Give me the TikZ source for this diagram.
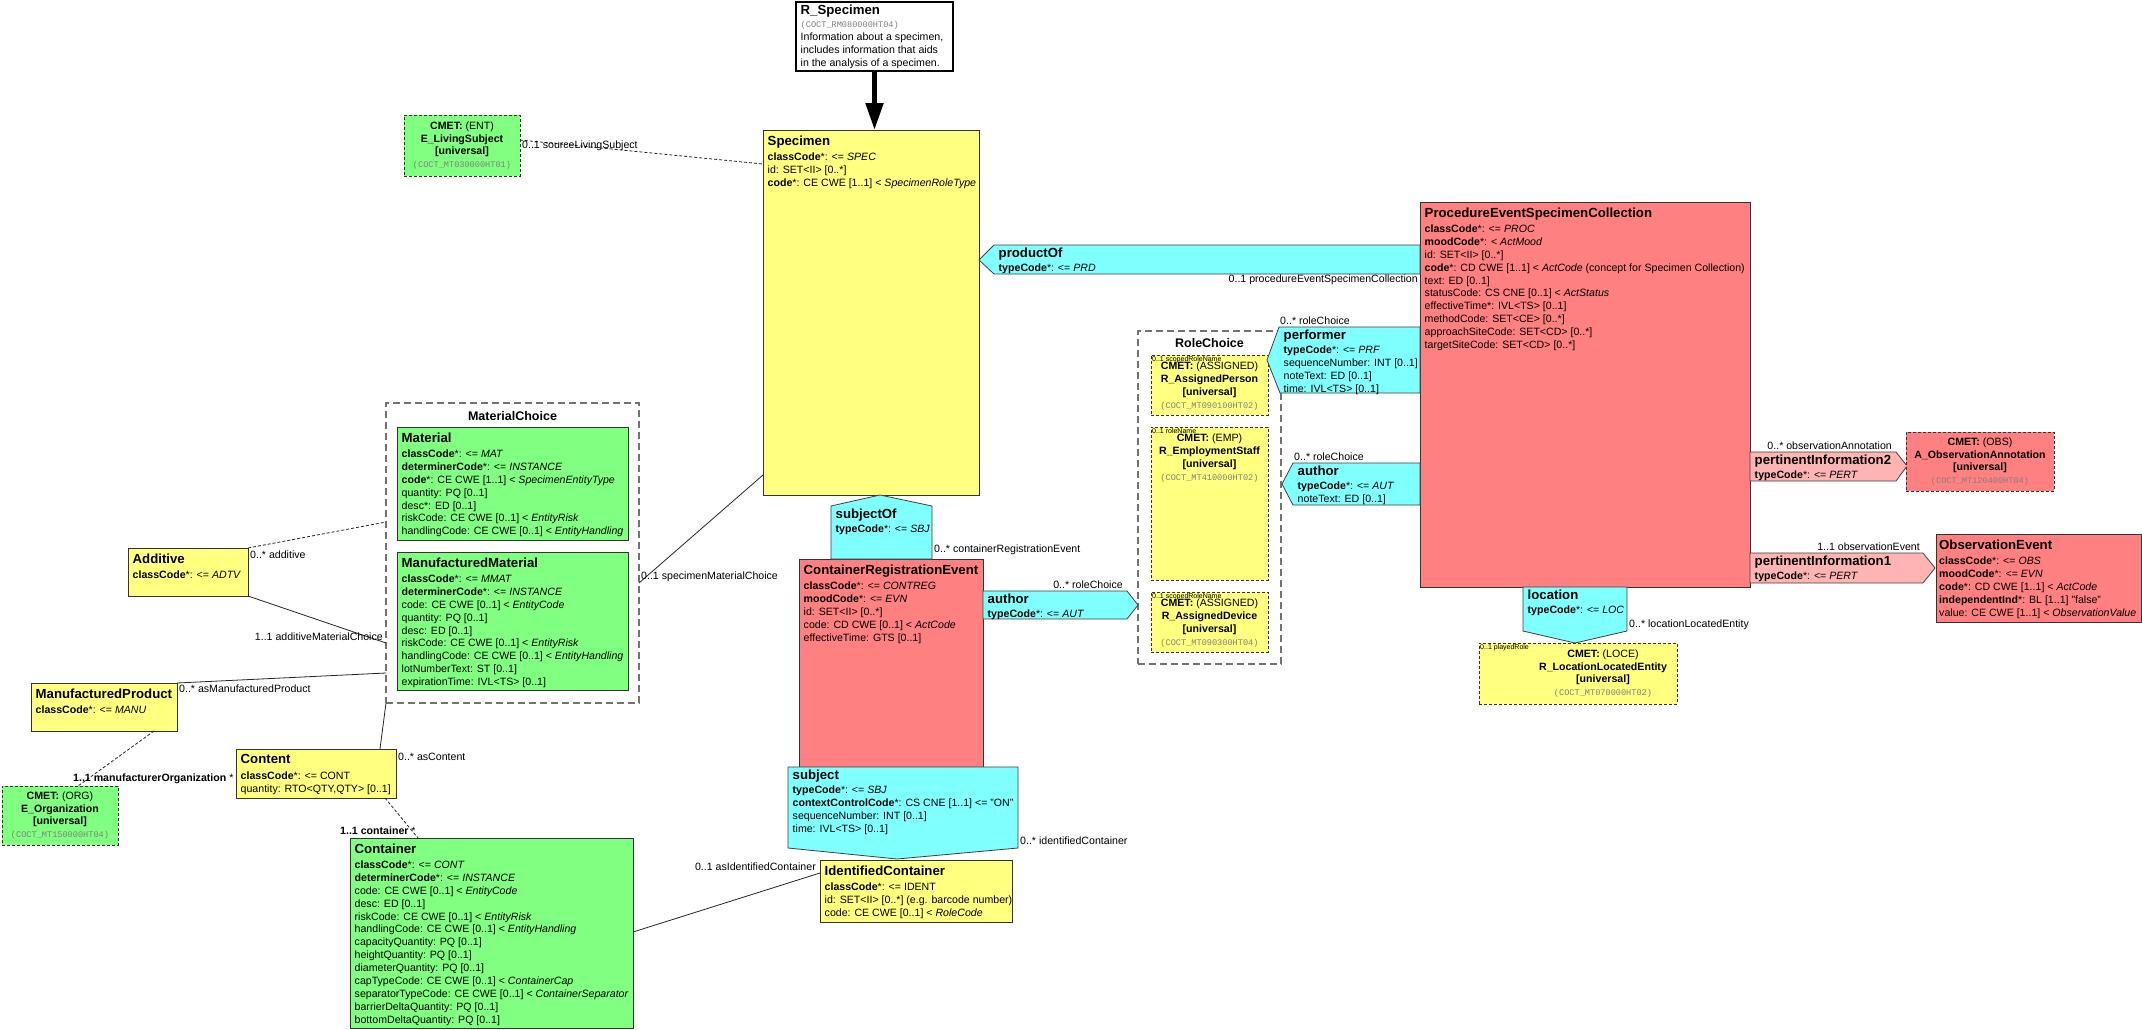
\documentclass[tikz,border=0pt]{standalone}
\usepackage{fontspec}
\setmainfont{Liberation Sans}
\setmonofont{Liberation Mono}
\usetikzlibrary{arrows.meta}
\usetikzlibrary{positioning}
\definecolor{rmyellow}{HTML}{FFFF80}
\definecolor{rmgreen}{HTML}{80FF80}
\definecolor{rmred}{HTML}{FF8080}
\definecolor{rmcyan}{HTML}{80FFFF}
\definecolor{rmpink}{HTML}{FFB4B4}
\definecolor{coctgray}{HTML}{808080}
\newcommand{\attr}{\fontsize{10.6}{12.9}\selectfont}
\newcommand{\ttl}[1]{{\fontsize{13.2}{13.2}\selectfont\bfseries #1}}
\newcommand{\coct}[1]{{\ttfamily\fontsize{8.6}{10}\selectfont\color{coctgray}(#1)}}
\newcommand{\rolenm}{\fontsize{7}{8}\selectfont}
\tikzstyle{cls}=[draw=black!80,line width=0.8pt,anchor=north west,inner sep=0pt,outer sep=0pt]
\tikzstyle{cmet}=[cls,line width=1pt,dash pattern=on 3pt off 2pt]
\tikzstyle{choice}=[draw=black!55,line width=1.2pt,dash pattern=on 7pt off 4pt,anchor=north west,inner sep=0pt,outer sep=0pt]
\tikzstyle{choicettl}=[font=\fontsize{12.5}{13}\selectfont\bfseries,inner sep=0pt]
\tikzstyle{txt}=[anchor=north west,align=left,font=\attr,inner xsep=4.5pt,inner ysep=5.5pt]
\tikzstyle{atxt}=[txt,inner ysep=3pt]
\tikzstyle{ctxt}=[align=center,font=\attr,inner sep=0pt]
\tikzstyle{assoc}=[draw=black!75,line width=0.8pt,fill=rmcyan]
\tikzstyle{lbl}=[font=\attr,inner sep=1pt]
\tikzstyle{rname}=[font=\rolenm,anchor=north west,inner sep=1pt]
\tikzstyle{link}=[draw=black!85,line width=0.8pt]
\tikzstyle{dlink}=[link,dash pattern=on 3pt off 2pt]
\begin{document}
\begin{tikzpicture}[x=1pt,y=-1pt]
\fill[white] (0,0) rectangle (2142,1029);
\useasboundingbox (0,0) rectangle (2142,1029);

% entry point
\node[cls,draw=black,line width=2.4pt,fill=white,minimum width=157pt,minimum height=69pt] (rspec) at (796,2) {};
\node[txt,inner ysep=3pt] (rspec-t) at (rspec.north west) {\ttl{R\_Specimen}\\\coct{COCT\_RM080000HT04}\\Information about a specimen,\\includes information that aids\\in the analysis of a specimen.};

\node[cls,fill=rmyellow,minimum width=216pt,minimum height=365pt] (specimen) at (763,130) {};
\node[txt] (specimen-t) at (specimen.north west) {\ttl{Specimen}\\[2.3pt]\textbf{classCode}*: <= \textit{SPEC}\\id: SET<II> [0..*]\\\textbf{code}*: CE CWE [1..1] < \textit{SpecimenRoleType}};
\draw[line width=5pt,-{Triangle[length=27pt,width=17pt]}] (rspec.south) -- (rspec.south |- specimen.north);

\node[cmet,fill=rmgreen,minimum width=116pt,minimum height=61pt] (livsubj) at (404,115) {};
\node[ctxt] (livsubj-t) at (livsubj.center) {\textbf{CMET:} (ENT)\\\textbf{E\_LivingSubject}\\\textbf{[universal]}\\\coct{COCT\_MT030000HT01}};
\draw[dlink] (livsubj.east |- 0,140) -- (specimen.west |- 0,164);
\node[lbl,anchor=west] (lsrc) at (521,146) {0..1 sourceLivingSubject};

\node[cls,fill=rmred,minimum width=330pt,minimum height=385pt] (procev) at (1420,202) {};
\node[txt] (procev-t) at (procev.north west) {\ttl{ProcedureEventSpecimenCollection}\\[2.3pt]
\textbf{classCode}*: <= \textit{PROC}\\
\textbf{moodCode}*: < \textit{ActMood}\\
id: SET<II> [0..*]\\
\textbf{code}*: CD CWE [1..1] < \textit{ActCode} (concept for Specimen Collection)\\
text: ED [0..1]\\
statusCode: CS CNE [0..1] < \textit{ActStatus}\\
effectiveTime*: IVL<TS> [0..1]\\
methodCode: SET<CE> [0..*]\\
approachSiteCode: SET<CD> [0..*]\\
targetSiteCode: SET<CD> [0..*]};

\draw[assoc] (1420,245) -- (994,245) -- (979,260) -- (994,274) -- (1420,274) -- cycle;
\node[atxt] (prodof-t) at (994,245) {\ttl{productOf}\\[1.3pt]\textbf{typeCode}*: <= \textit{PRD}};
\node[lbl,anchor=north east] (lprodof) at (1419,274) {0..1 procedureEventSpecimenCollection};

% role choice
\node[choice,minimum width=143pt,minimum height=333pt] (rolech) at (1138,331) {};
\node[choicettl,below=7.5pt of rolech.north] (rolech-t) {RoleChoice};
\node[cmet,fill=rmyellow,minimum width=117pt,minimum height=60pt] (aperson) at (1151,355) {};
\node[ctxt,below=6.5pt of aperson.north] (aperson-t) {\textbf{CMET:} (ASSIGNED)\\\textbf{R\_AssignedPerson}\\\textbf{[universal]}\\\coct{COCT\_MT090100HT02}};
\node[rname] (aperson-r) at (aperson.north west) {0..1 scopedRoleName};
\node[cmet,fill=rmyellow,minimum width=117pt,minimum height=153pt] (estaff) at (1151,427) {};
\node[ctxt,below=6.5pt of estaff.north] (estaff-t) {\textbf{CMET:} (EMP)\\\textbf{R\_EmploymentStaff}\\\textbf{[universal]}\\\coct{COCT\_MT410000HT02}};
\node[rname] (estaff-r) at (estaff.north west) {0..1 roleName};
\node[cmet,fill=rmyellow,minimum width=117pt,minimum height=60pt] (adevice) at (1151,592) {};
\node[ctxt,below=6.5pt of adevice.north] (adevice-t) {\textbf{CMET:} (ASSIGNED)\\\textbf{R\_AssignedDevice}\\\textbf{[universal]}\\\coct{COCT\_MT090300HT04}};
\node[rname] (adevice-r) at (adevice.north west) {0..1 scopedRoleName};

\draw[assoc] (1420,327) -- (1279,327) -- (1267,360) -- (1280,393) -- (1420,393) -- cycle;
\node[atxt] (perf-t) at (1279,327) {\ttl{performer}\\[1.3pt]\textbf{typeCode}*: <= \textit{PRF}\\sequenceNumber: INT [0..1]\\noteText: ED [0..1]\\time: IVL<TS> [0..1]};
\node[lbl,anchor=south west] (lperf) at (1279,326) {0..* roleChoice};

\draw[assoc] (1420,463) -- (1293,463) -- (1282,484) -- (1293,505) -- (1420,505) -- cycle;
\node[atxt] (auth2-t) at (1293,463) {\ttl{author}\\[1.3pt]\textbf{typeCode}*: <= \textit{AUT}\\noteText: ED [0..1]};
\node[lbl,anchor=south west] (lauth2) at (1293,462) {0..* roleChoice};

% container registration
\node[cls,fill=rmred,minimum width=184pt,minimum height=208pt] (crevent) at (799,559) {};
\node[txt] (crevent-t) at (crevent.north west) {\ttl{ContainerRegistrationEvent}\\[2.3pt]\textbf{classCode}*: <= \textit{CONTREG}\\\textbf{moodCode}*: <= \textit{EVN}\\id: SET<II> [0..*]\\code: CD CWE [0..1] < \textit{ActCode}\\effectiveTime: GTS [0..1]};

\draw[assoc] (831,559) -- (831,506) -- (880,495) -- (932,506) -- (932,559) -- cycle;
\node[atxt] (sbjof-t) at (831,506) {\ttl{subjectOf}\\[1.3pt]\textbf{typeCode}*: <= \textit{SBJ}};
\node[lbl,anchor=west] (lsbjof) at (933,550) {0..* containerRegistrationEvent};

\draw[assoc] (983,591) -- (1127,591) -- (1138,605) -- (1127,619) -- (983,619) -- cycle;
\node[atxt] (auth1-t) at (983,591) {\ttl{author}\\[1.3pt]\textbf{typeCode}*: <= \textit{AUT}};
\node[lbl,anchor=south east] (lauth1) at (1124,590) {0..* roleChoice};

\draw[assoc] (788,767) -- (1018,767) -- (1018,848) -- (897,859) -- (788,848) -- cycle;
\node[atxt] (sbj-t) at (788,767) {\ttl{subject}\\[1.3pt]\textbf{typeCode}*: <= \textit{SBJ}\\\textbf{contextControlCode}*: CS CNE [1..1] <= "ON"\\sequenceNumber: INT [0..1]\\time: IVL<TS> [0..1]};
\node[lbl,anchor=west] (lsbj) at (1019,841) {0..* identifiedContainer};

\node[cls,fill=rmyellow,minimum width=192pt,minimum height=62pt] (identc) at (820,860) {};
\node[txt] (identc-t) at (identc.north west) {\ttl{IdentifiedContainer}\\[2.3pt]\textbf{classCode}*: <= IDENT\\id: SET<II> [0..*] (e.g. barcode number)\\code: CE CWE [0..1] < \textit{RoleCode}};

\node[cls,fill=rmgreen,minimum width=283pt,minimum height=190pt] (container) at (350,838) {};
\node[txt] (container-t) at (container.north west) {\ttl{Container}\\[2.3pt]
\textbf{classCode}*: <= \textit{CONT}\\
\textbf{determinerCode}*: <= \textit{INSTANCE}\\
code: CE CWE [0..1] < \textit{EntityCode}\\
desc: ED [0..1]\\
riskCode: CE CWE [0..1] < \textit{EntityRisk}\\
handlingCode: CE CWE [0..1] < \textit{EntityHandling}\\
capacityQuantity: PQ [0..1]\\
heightQuantity: PQ [0..1]\\
diameterQuantity: PQ [0..1]\\
capTypeCode: CE CWE [0..1] < \textit{ContainerCap}\\
separatorTypeCode: CE CWE [0..1] < \textit{ContainerSeparator}\\
barrierDeltaQuantity: PQ [0..1]\\
bottomDeltaQuantity: PQ [0..1]};
\draw[link] (container.east |- 0,932) -- (identc.west |- 0,873);
\node[lbl,anchor=east] (lasid) at (817,867) {0..1 asIdentifiedContainer};

% material choice
\node[choice,minimum width=253pt,minimum height=300pt] (match) at (386,403) {};
\node[choicettl,below=8.5pt of match.north] (match-t) {MaterialChoice};
\node[cls,fill=rmgreen,minimum width=231pt,minimum height=113pt] (material) at (397,427) {};
\node[txt] (material-t) at (material.north west) {\ttl{Material}\\[2.3pt]
\textbf{classCode}*: <= \textit{MAT}\\
\textbf{determinerCode}*: <= \textit{INSTANCE}\\
\textbf{code}*: CE CWE [1..1] < \textit{SpecimenEntityType}\\
quantity: PQ [0..1]\\
desc*: ED [0..1]\\
riskCode: CE CWE [0..1] < \textit{EntityRisk}\\
handlingCode: CE CWE [0..1] < \textit{EntityHandling}};
\node[cls,fill=rmgreen,minimum width=231pt,minimum height=138pt] (mmaterial) at (397,552) {};
\node[txt] (mmaterial-t) at (mmaterial.north west) {\ttl{ManufacturedMaterial}\\[2.3pt]
\textbf{classCode}*: <= \textit{MMAT}\\
\textbf{determinerCode}*: <= \textit{INSTANCE}\\
code: CE CWE [0..1] < \textit{EntityCode}\\
quantity: PQ [0..1]\\
desc: ED [0..1]\\
riskCode: CE CWE [0..1] < \textit{EntityRisk}\\
handlingCode: CE CWE [0..1] < \textit{EntityHandling}\\
lotNumberText: ST [0..1]\\
expirationTime: IVL<TS> [0..1]};
\draw[link] (match.east |- 0,583) -- (specimen.west |- 0,475);
\node[lbl,anchor=west] (lspmat) at (640,577) {0..1 specimenMaterialChoice};

\node[cls,fill=rmyellow,minimum width=120pt,minimum height=48pt] (additive) at (128,548) {};
\node[txt] (additive-t) at (additive.north west) {\ttl{Additive}\\[2.3pt]\textbf{classCode}*: <= \textit{ADTV}};
\draw[dlink] (additive.north east) -- (match.west |- 0,522);
\node[lbl,anchor=west] (ladd) at (249,555) {0..* additive};
\draw[link] (additive.south east) -- (match.west |- 0,643);
\node[lbl,anchor=east] (laddmat) at (384,637) {1..1 additiveMaterialChoice};

\node[cls,fill=rmyellow,minimum width=146pt,minimum height=48pt] (mproduct) at (31,683) {};
\node[txt] (mproduct-t) at (mproduct.north west) {\ttl{ManufacturedProduct}\\[2.3pt]\textbf{classCode}*: <= \textit{MANU}};
\draw[link] (mproduct.north east) -- (match.west |- 0,673);
\node[lbl,anchor=west] (lasmp) at (178,689) {0..* asManufacturedProduct};

\node[cmet,fill=rmgreen,minimum width=116pt,minimum height=59pt] (eorg) at (2,786) {};
\node[ctxt] (eorg-t) at (eorg.center) {\textbf{CMET:} (ORG)\\\textbf{E\_Organization}\\\textbf{[universal]}\\\coct{COCT\_MT150000HT04}};
\draw[dlink] (mproduct.south -| 154,0) -- (eorg.north -| 78,0);
\node[lbl,anchor=west] (lmorg) at (72,779) {\textbf{1..1 manufacturerOrganization} *};

\node[cls,fill=rmyellow,minimum width=160pt,minimum height=49pt] (content) at (236,749) {};
\node[txt] (content-t) at (content.north west) {\ttl{Content}\\[2.3pt]\textbf{classCode}*: <= CONT\\quantity: RTO<QTY,QTY> [0..1]};
\draw[link] (content.north -| 380,0) -- (match.south west);
\node[lbl,anchor=west] (lascont) at (397,757) {0..* asContent};
\draw[dlink] (content.south -| 385,0) -- (container.north -| 418,0);
\node[lbl,anchor=west] (lcont) at (339,831) {\textbf{1..1 container} *};

% location
\draw[assoc] (1523,587) -- (1627,587) -- (1627,631) -- (1575,643) -- (1523,631) -- cycle;
\node[atxt] (loc-t) at (1523,587) {\ttl{location}\\[1.3pt]\textbf{typeCode}*: <= \textit{LOC}};
\node[lbl,anchor=west] (lloc) at (1628,625) {0..* locationLocatedEntity};
\node[cmet,fill=rmyellow,minimum width=198pt,minimum height=61pt] (locent) at (1479,643) {};
\node[ctxt] (locent-t) at (1603,673.5) {\textbf{CMET:} (LOCE)\\\textbf{R\_LocationLocatedEntity}\\\textbf{[universal]}\\\coct{COCT\_MT070000HT02}};
\node[rname] (locent-r) at (locent.north west) {0..1 playedRole};

% pertinent information
\draw[assoc,fill=rmpink] (1750,452) -- (1896,452) -- (1907,466) -- (1896,481) -- (1750,481) -- cycle;
\node[atxt] (pi2-t) at (1750,452) {\ttl{pertinentInformation2}\\[1.3pt]\textbf{typeCode}*: <= \textit{PERT}};
\node[lbl,anchor=south east] (lpi2) at (1893,451) {0..* observationAnnotation};
\node[cmet,fill=rmred,minimum width=148pt,minimum height=59pt] (obsann) at (1906,432) {};
\node[ctxt] (obsann-t) at (obsann.center) {\textbf{CMET:} (OBS)\\\textbf{A\_ObservationAnnotation}\\\textbf{[universal]}\\\coct{COCT\_MT120400HT04}};

\draw[assoc,fill=rmpink] (1750,553) -- (1923,553) -- (1935,568) -- (1923,583) -- (1750,583) -- cycle;
\node[atxt] (pi1-t) at (1750,553) {\ttl{pertinentInformation1}\\[1.3pt]\textbf{typeCode}*: <= \textit{PERT}};
\node[lbl,anchor=south east] (lpi1) at (1921,552) {1..1 observationEvent};
\node[cls,fill=rmred,minimum width=205pt,minimum height=88pt] (obsev) at (1936,534) {};
\node[txt,inner xsep=3pt] (obsev-t) at (obsev.north west) {\ttl{ObservationEvent}\\[2.3pt]
\textbf{classCode}*: <= \textit{OBS}\\
\textbf{moodCode}*: <= \textit{EVN}\\
\textbf{code}*: CD CWE [1..1] < \textit{ActCode}\\
\textbf{independentInd}*: BL [1..1] "false"\\
value: CE CWE [1..1] < \textit{ObservationValue}};
\end{tikzpicture}
\end{document}
